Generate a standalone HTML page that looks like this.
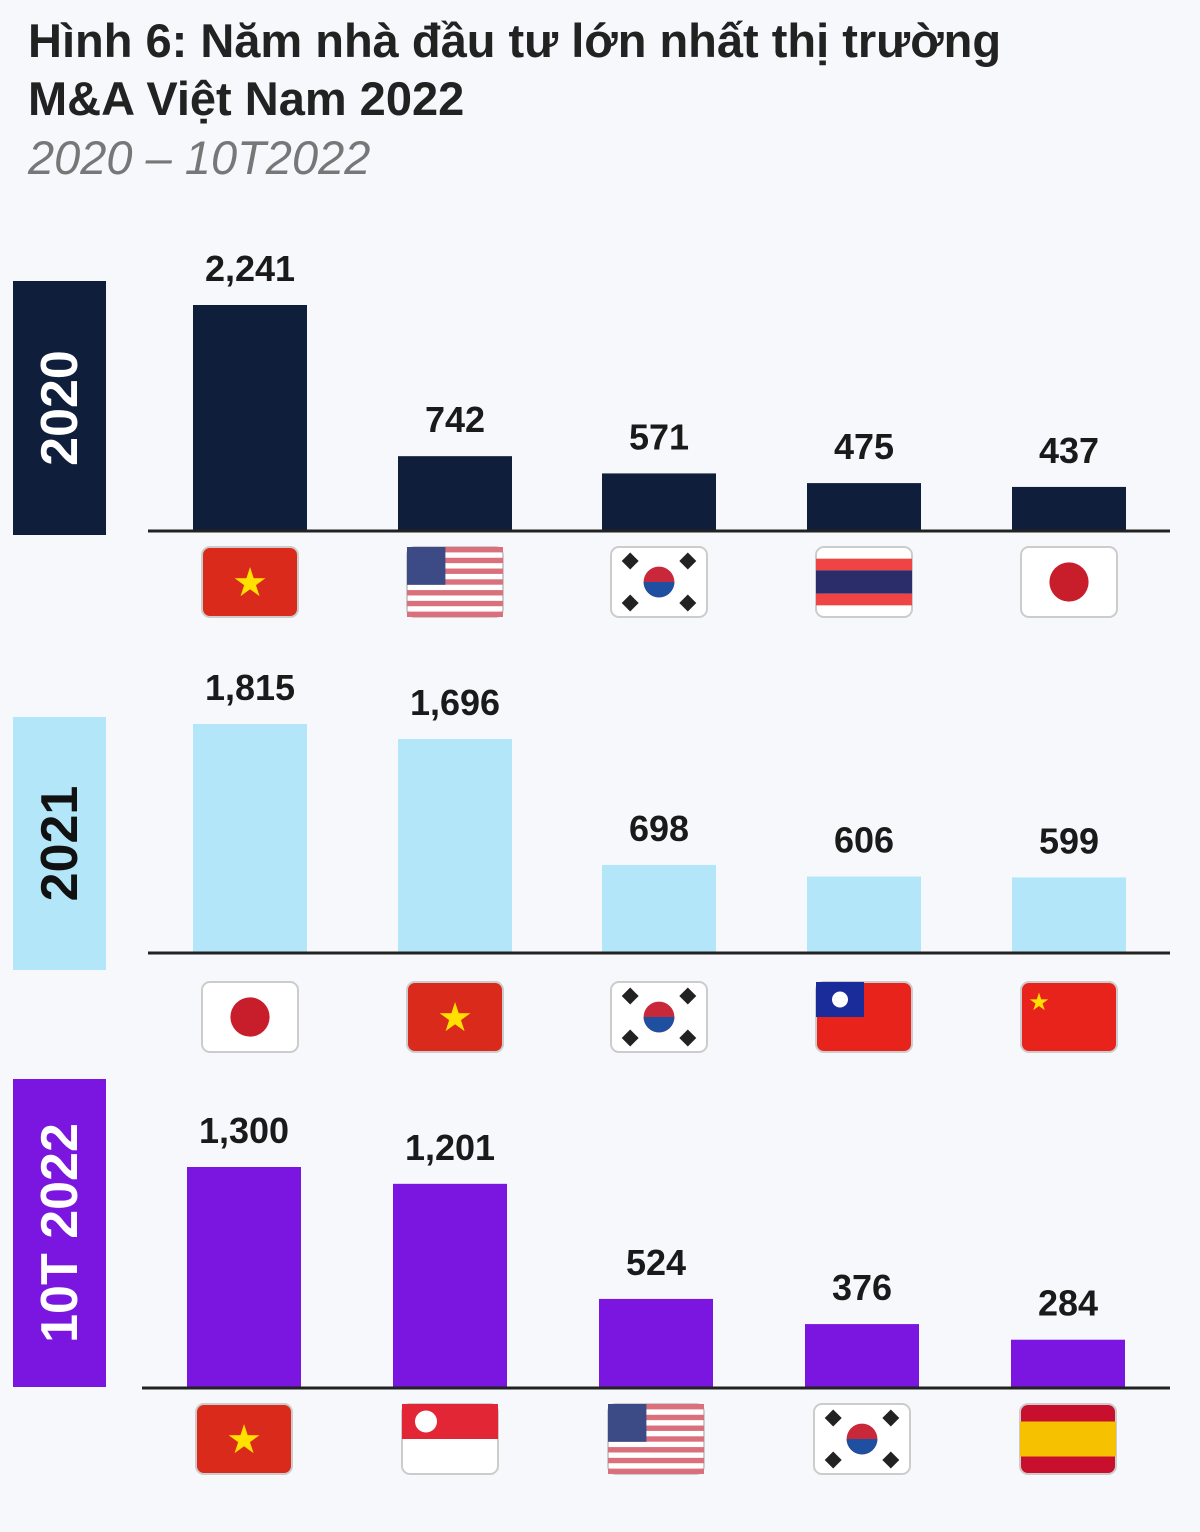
<!DOCTYPE html>
<html><head><meta charset="utf-8"><style>
body{margin:0;width:1200px;height:1532px;background:#f6f8fb;font-family:"Liberation Sans",sans-serif;overflow:hidden;position:relative}
.t{position:absolute;left:28px;font-weight:bold;font-size:47px;color:#222;line-height:58px}
</style></head><body>
<div class="t" style="top:12px">Hình 6: Năm nhà đầu tư lớn nhất thị trường<br>M&amp;A Việt Nam 2022</div>
<div style="position:absolute;left:28px;top:130px;font-size:47px;font-style:italic;color:#777">2020 – 10T2022</div>
<svg id="c" width="1200" height="1532" style="position:absolute;left:0;top:0"></svg>
<script>
const years=["2020","2021","10T 2022"];
const vals2020=[2241,742,571,475,437];
const vals2021=[1815,1696,698,606,599];
const vals2022=[1300,1201,524,376,284];
const flags2020=["vn","us","kr","th","jp"];
const flags2021=["jp","vn","kr","tw","cn"];
const flags2022=["vn","sg","us","kr","es"];
const panels=[
 {v:vals2020,f:flags2020,box:[281,535],col:"#0f1f3b",tc:"#fff",base:531,x0:148,cx:[250,455,659,864,1069],k:226/2241,fy:547},
 {v:vals2021,f:flags2021,box:[717,970],col:"#b2e6f8",tc:"#111",base:953,x0:148,cx:[250,455,659,864,1069],k:229/1815,fy:982},
 {v:vals2022,f:flags2022,box:[1079,1387],col:"#7a16e0",tc:"#fff",base:1388,x0:142,cx:[244,450,656,862,1068],k:221/1300,fy:1404}];
const svg=document.getElementById('c');const NS="http://www.w3.org/2000/svg";
function E(t,a,p){const e=document.createElementNS(NS,t);for(const k in a)e.setAttribute(k,a[k]);(p||svg).appendChild(e);return e;}
function flag(code,x,y,w,h){
 const g=E('g',{});
 
 
 const cx=x+w/2,cy=y+h/2;
 const bg={vn:"#da2a1c",us:"#fff",kr:"#fff",th:"#fff",jp:"#fff",tw:"#e8231c",cn:"#e8231c",sg:"#fff",es:"#c8102e"}[code];
 E('rect',{x,y,width:w,height:h,rx:8,fill:bg,stroke:"#ccc","stroke-width":2},g);
 if(code=="vn")E('text',{x:cx,y:cy+14,"text-anchor":"middle","font-size":40,fill:"#ffe000"},g).textContent="★";
 if(code=="jp")E('circle',{cx,cy,r:h*0.28,fill:"#c81d2a"},g);
 if(code=="kr"){E('circle',{cx,cy,r:h*0.22,fill:"#c8283a"},g);E('path',{d:`M${cx-h*0.22} ${cy} A${h*0.22} ${h*0.22} 0 0 0 ${cx+h*0.22} ${cy}Z`,fill:"#1f4fa0"},g);
  [[-1,-1],[1,-1],[-1,1],[1,1]].forEach(([a,b])=>E('rect',{x:cx+a*w*0.3-6,y:cy+b*h*0.3-6,width:12,height:12,fill:"#222",transform:`rotate(${a*b*45} ${cx+a*w*0.3} ${cy+b*h*0.3})`},g));}
 if(code=="th"){E('rect',{x,y:y+h/6,width:w,height:h/6,fill:"#e44",},g);E('rect',{x,y:y+h/3,width:w,height:h/3,fill:"#2a2d6a"},g);E('rect',{x,y:y+h*2/3,width:w,height:h/6,fill:"#e44"},g);}
 if(code=="us"){for(let i=0;i<7;i++)E('rect',{x,y:y+i*h/6.5,width:w,height:h/13,fill:"#d9707c"},g);E('rect',{x,y,width:w*0.4,height:h*0.54,fill:"#3c4a86"},g);}
 if(code=="tw")E('rect',{x,y,width:w/2,height:h/2,fill:"#1a2b9a"},g),E('circle',{cx:x+w/4,cy:y+h/4,r:8,fill:"#fff"},g);
 if(code=="cn")E('text',{x:x+18,y:y+28,"text-anchor":"middle","font-size":24,fill:"#ffdf00"},g).textContent="★";
 if(code=="sg"){E('rect',{x,y,width:w,height:h/2,fill:"#e32636"},g);E('circle',{cx:x+24,cy:y+h/4,r:11,fill:"#fff"},g);}
 if(code=="es")E('rect',{x,y:y+h/4,width:w,height:h/2,fill:"#f6c200"},g);
}
panels.forEach((p,pi)=>{
 const r=E('rect',{x:13,y:p.box[0],width:93,height:p.box[1]-p.box[0],fill:p.col});
 
 const ly=(p.box[0]+p.box[1])/2;
 const t=E('text',{x:60,y:ly,transform:`rotate(-90 60 ${ly})`,"text-anchor":"middle","dominant-baseline":"central","font-size":52,"font-weight":"bold",fill:p.tc});
 t.textContent=years[pi];
 p.v.forEach((v,i)=>{
  const h=v*p.k;
  const b=E('rect',{x:p.cx[i]-57,y:p.base-h,width:114,height:h,fill:p.col});
  
  const l=E('text',{x:p.cx[i],y:p.base-h-24,"text-anchor":"middle","font-size":36,"font-weight":"bold",fill:"#1a1a1a"});
  l.textContent=v.toLocaleString('en-US');
  flag(p.f[i],p.cx[i]-48,p.fy,96,70);
 });
 const ax=E('line',{x1:p.x0,x2:1170,y1:p.base,y2:p.base,stroke:"#222","stroke-width":3});
 
});
</script>
</body></html>
